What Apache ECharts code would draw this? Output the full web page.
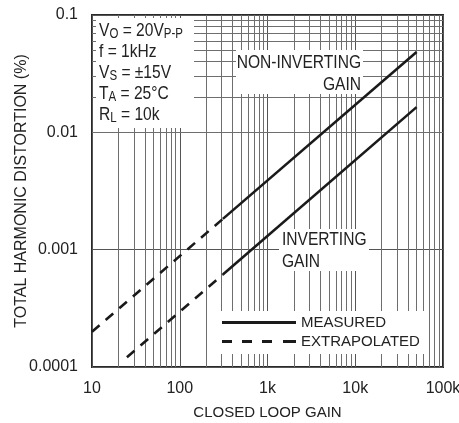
<!DOCTYPE html>
<html>
<head>
<meta charset="utf-8">
<script src="https://cdn.jsdelivr.net/npm/echarts@6/dist/echarts.min.js"></script>
<style>
  html, body { margin: 0; padding: 0; background: #fff; }
  #chart { width: 459px; height: 423px; }
</style>
</head>
<body>
<div id="chart"></div>
<script>
// THD vs closed loop gain, log-log
const FONT = "'Liberation Sans', Arial, sans-serif";
const SQUEEZE = 0.82; // reference type is a condensed face

const gainTicks = [10, 100, 1000, 10000, 100000];
const gainTickLabels = ['10', '100', '1k', '10k', '100k'];
const thdTicks = [0.0001, 0.001, 0.01, 0.1];
const thdTickLabels = ['0.0001', '0.001', '0.01', '0.1'];

// measured (solid)
const gainMeasured = [310, 50000];
const thdNonInvMeasured = [0.00183, 0.0484];
const thdInvMeasured = [0.000614, 0.0164];
// extrapolated (dashed)
const gainNonInvExtrap = [10, 310];
const thdNonInvExtrap = [0.0002, 0.00183];
const gainInvExtrap = [25, 310];
const thdInvExtrap = [0.000121, 0.000614];

const zip = (xs, ys) => xs.map((x, i) => [x, ys[i]]);

// minor grid lines at 2..9 of every decade
const minorX = [];
for (let d = 10; d < 100000; d *= 10) for (let k = 2; k <= 9; k++) minorX.push(d * k);
const minorY = [];
for (let d = 0.0001; d < 0.1 - 1e-12; d *= 10) for (let k = 2; k <= 9; k++) minorY.push(+(d * k).toPrecision(3));

const nearestLabel = (ticks, labels) => v => {
    let best = 0;
    ticks.forEach((t, i) => {
        if (Math.abs(Math.log10(t) - Math.log10(v)) < Math.abs(Math.log10(ticks[best]) - Math.log10(v))) best = i;
    });
    return labels[best];
};

const chart = echarts.init(document.getElementById('chart'));

const lineBase = { type: 'line', symbol: 'none', showSymbol: false, silent: true, z: 5, animation: false, color: '#1a1a1a' };

const option = {
    animation: false,
    textStyle: { fontFamily: FONT },
    grid: {
        left: 92, top: 15, right: 16, bottom: 56,
        outerBoundsMode: 'none', containLabel: false,
        show: true, borderColor: '#2a2a2a', borderWidth: 2, backgroundColor: 'transparent'
    },
    xAxis: {
        type: 'log', logBase: 10, min: 10, max: 100000,
        name: 'CLOSED LOOP GAIN', nameLocation: 'middle', nameGap: 38, nameMoveOverlap: false,
        nameTextStyle: { fontFamily: FONT, fontSize: 15, color: '#222' },
        axisLine: { show: false }, axisTick: { show: false },
        axisLabel: { fontFamily: FONT, fontSize: 16, color: '#222', margin: 14, formatter: nearestLabel(gainTicks, gainTickLabels) },
        splitLine: { show: true, lineStyle: { color: '#555', width: 1 } }
    },
    yAxis: {
        type: 'log', logBase: 10, min: 0.0001, max: 0.1,
        name: 'TOTAL HARMONIC DISTORTION (%)', nameLocation: 'middle', nameGap: 62, nameRotate: 90, nameMoveOverlap: false,
        nameTextStyle: { fontFamily: FONT, fontSize: 16, color: '#222' },
        axisLine: { show: false }, axisTick: { show: false },
        axisLabel: { fontFamily: FONT, fontSize: 16, color: '#222', margin: 14, formatter: nearestLabel(thdTicks, thdTickLabels) },
        splitLine: { show: true, lineStyle: { color: '#555', width: 1 } }
    },
    legend: {
        left: 207, top: 311,
        orient: 'vertical',
        backgroundColor: '#fff',
        padding: [4, 6, 5, 15],
        itemGap: 4,
        itemWidth: 74, itemHeight: 16,
        data: [
            { name: 'MEASURED', icon: 'path://M0,0h74v3h-74z' },
            { name: 'EXTRAPOLATED', icon: 'path://M0,0h10v3h-10zM20,0h10v3h-10zM40,0h10v3h-10zM61,0h13v3h-13z' }
        ],
        symbolKeepAspect: true,
        selectedMode: false,
        textStyle: { fontFamily: FONT, fontSize: 15, color: '#222' },
        z: 8
    },
    series: [
        {
            type: 'line', name: 'grid', data: [], silent: true, z: 1,
            markLine: {
                silent: true, symbol: 'none', animation: false,
                label: { show: false },
                lineStyle: { color: '#6e6e6e', width: 1, type: 'solid' },
                data: minorX.map(v => ({ xAxis: v })).concat(minorY.map(v => ({ yAxis: v })))
            }
        },
        Object.assign({}, lineBase, { name: 'MEASURED', data: zip(gainMeasured, thdNonInvMeasured), lineStyle: { width: 2.6, color: '#1a1a1a' } }),
        Object.assign({}, lineBase, { name: 'MEASURED', data: zip(gainMeasured, thdInvMeasured), lineStyle: { width: 2.6, color: '#1a1a1a' } }),
        Object.assign({}, lineBase, { name: 'EXTRAPOLATED', data: zip(gainNonInvExtrap, thdNonInvExtrap), lineStyle: { width: 2.6, color: '#1a1a1a', type: [10, 8] } }),
        Object.assign({}, lineBase, { name: 'EXTRAPOLATED', data: zip(gainInvExtrap, thdInvExtrap), lineStyle: { width: 2.6, color: '#1a1a1a', type: [10, 8] } })
    ],
    graphic: [
        // conditions box
        { type: 'rect', z: 10, shape: { x: 96, y: 18, width: 98, height: 110 }, style: { fill: '#fff' } },
        {
            type: 'text', z: 11, x: 99, y: 20, scaleX: SQUEEZE,
            style: {
                text: 'V{s|O} = 20V{s|P-P}\nf = 1kHz\nV{s|S} = ±15V\nT{s|A} = 25°C\nR{s|L} = 10k',
                fill: '#222', font: '19px ' + FONT, lineHeight: 21, verticalAlign: 'top',
                rich: {
                    s: { fontSize: 14, fontFamily: FONT, lineHeight: 9, verticalAlign: 'bottom', fill: '#222' }
                }
            }
        },
        // non-inverting label
        { type: 'rect', z: 10, shape: { x: 236, y: 50, width: 127, height: 44 }, style: { fill: '#fff' } },
        {
            type: 'text', z: 11, x: 361, y: 52, scaleX: SQUEEZE,
            style: { text: 'NON-INVERTING\nGAIN', fill: '#222', font: '19px ' + FONT, lineHeight: 22, align: 'right', verticalAlign: 'top' }
        },
        // inverting label
        { type: 'rect', z: 10, shape: { x: 279, y: 229, width: 90, height: 42 }, style: { fill: '#fff' } },
        {
            type: 'text', z: 11, x: 282, y: 229, scaleX: SQUEEZE,
            style: { text: 'INVERTING\nGAIN', fill: '#222', font: '19px ' + FONT, lineHeight: 22, align: 'left', verticalAlign: 'top' }
        }
    ]
};

chart.setOption(option);
</script>
</body>
</html>
